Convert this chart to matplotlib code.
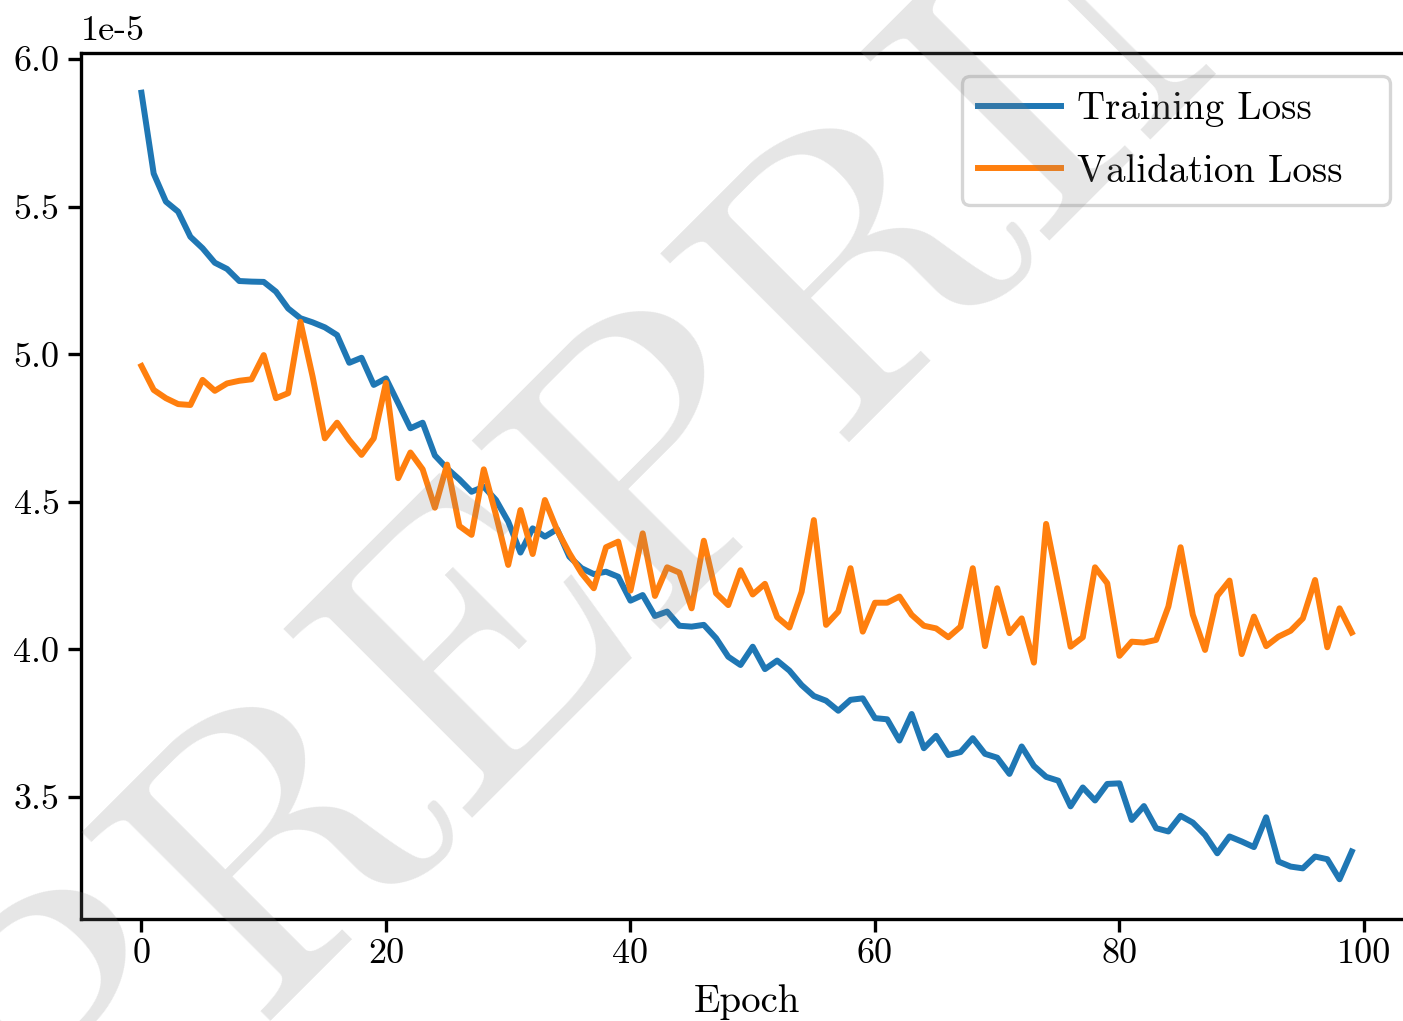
"""Training / validation loss curves with a PREPRINT watermark."""

import matplotlib

matplotlib.use("Agg")
import matplotlib.pyplot as plt
import numpy as np

epochs = np.arange(100)

# loss values, in units of 1e-5
train_loss = [
    5.886, 5.612, 5.517, 5.483, 5.398, 5.359, 5.310, 5.289, 5.248, 5.246,
    5.245, 5.212, 5.155, 5.122, 5.108, 5.091, 5.065, 4.971, 4.988, 4.896,
    4.918, 4.834, 4.749, 4.768, 4.657, 4.613, 4.576, 4.534, 4.551, 4.506,
    4.433, 4.328, 4.410, 4.382, 4.407, 4.314, 4.275, 4.255, 4.263, 4.246,
    4.165, 4.184, 4.113, 4.128, 4.080, 4.077, 4.083, 4.038, 3.975, 3.947,
    4.009, 3.933, 3.962, 3.928, 3.879, 3.842, 3.826, 3.792, 3.829, 3.834,
    3.767, 3.763, 3.691, 3.781, 3.665, 3.707, 3.642, 3.652, 3.699, 3.646,
    3.633, 3.578, 3.671, 3.605, 3.568, 3.555, 3.468, 3.532, 3.488, 3.544,
    3.546, 3.422, 3.469, 3.394, 3.383, 3.436, 3.413, 3.371, 3.309, 3.366,
    3.349, 3.330, 3.431, 3.281, 3.264, 3.258, 3.298, 3.289, 3.221, 3.315,
]
val_loss = [
    4.960, 4.879, 4.851, 4.831, 4.828, 4.913, 4.876, 4.901, 4.910, 4.915,
    4.997, 4.851, 4.868, 5.110, 4.924, 4.715, 4.768, 4.709, 4.659, 4.715,
    4.903, 4.580, 4.667, 4.610, 4.480, 4.626, 4.418, 4.388, 4.610, 4.455,
    4.286, 4.472, 4.323, 4.506, 4.404, 4.326, 4.258, 4.207, 4.346, 4.365,
    4.199, 4.393, 4.181, 4.278, 4.260, 4.139, 4.368, 4.190, 4.150, 4.268,
    4.186, 4.222, 4.109, 4.074, 4.195, 4.438, 4.083, 4.128, 4.275, 4.060,
    4.158, 4.158, 4.179, 4.117, 4.080, 4.071, 4.041, 4.077, 4.275, 4.011,
    4.207, 4.055, 4.105, 3.955, 4.425, 4.218, 4.009, 4.041, 4.278, 4.224,
    3.978, 4.026, 4.023, 4.032, 4.145, 4.346, 4.117, 3.998, 4.181, 4.233,
    3.984, 4.111, 4.011, 4.043, 4.063, 4.105, 4.235, 4.007, 4.139, 4.057,
]
series_labels = ["Training Loss", "Validation Loss"]

plt.rcParams["font.family"] = "cmr10"
plt.rcParams["axes.unicode_minus"] = False
plt.rcParams["font.size"] = 26

W, H = 1403, 1021
fig = plt.figure(figsize=(W / 100, H / 100), dpi=100)
ax = fig.add_axes([0.0577, 0.1003, 0.9489, 0.8474])

scale = 1e-5
ax.plot(epochs, np.array(train_loss) * scale, color="#1f77b4", lw=4.3, label=series_labels[0])
ax.plot(epochs, np.array(val_loss) * scale, color="#ff7f0e", lw=4.3, label=series_labels[1])

ax.set_xlabel("Epoch", fontsize=28, labelpad=10)
ax.set_xticks([0, 20, 40, 60, 80, 100])

for side in ("left", "bottom", "top", "right"):
    ax.spines[side].set_linewidth(2.4)
ax.tick_params(axis="both", which="major", direction="out", length=9.4, width=2.4,
               labelsize=26, top=False, right=False)
ax.tick_params(axis="y", pad=6)
ax.tick_params(axis="x", pad=5)
ax.yaxis.get_offset_text().set_fontsize(26)
ax.yaxis.OFFSETTEXTPAD = 10

# legend frame spans a fixed box, content left-aligned inside it
leg = ax.legend(loc="upper left", bbox_to_anchor=(962 / W, 0, 428 / W, (H - 76) / H),
                bbox_transform=fig.transFigure, mode="expand", borderaxespad=0,
                fontsize=28, handlelength=2.15, handletextpad=0.4, labelspacing=0.68)
leg.get_frame().set_linewidth(2.4)

# watermark
fig.text(0.526, 0.607, "PREPRINT", fontsize=281, rotation=45, ha="center", va="center",
         color="gray", alpha=0.2, zorder=10)

fig.savefig("out.png", dpi=100)
plt.close(fig)
